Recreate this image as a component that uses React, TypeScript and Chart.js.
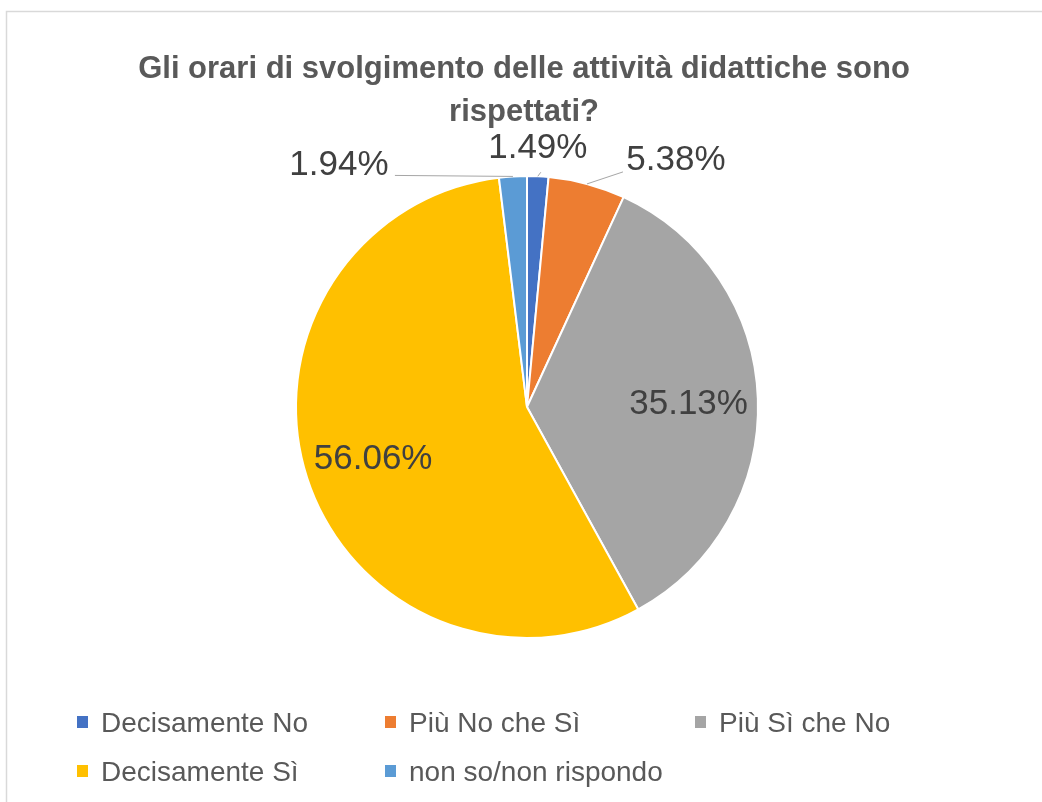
import React, { useEffect, useRef } from "react";
import { Chart, registerables } from "chart.js";

Chart.register(...registerables);

const titleLines = ["Gli orari di svolgimento delle attività didattiche sono", "rispettati?"];
const categories = ["Decisamente No", "Più No che Sì", "Più Sì che No", "Decisamente Sì", "non so/non rispondo"];
const values = [1.49, 5.38, 35.13, 56.06, 1.94];
const colors = ["#4472C4", "#ED7D31", "#A5A5A5", "#FFC000", "#5B9BD5"];
const valueLabels = values.map((v) => v.toFixed(2) + "%");

// label placement styles (inside: fraction of radius; outside: offset from slice edge midpoint)
const placements: any[] = [
  { mode: "out", dx: 0, dy: -18, lx: 3, ly: 14 },
  { mode: "out", dx: 89, dy: -14, lx: -53, ly: 2 },
  { mode: "in", r: 0.7 },
  { mode: "in", r: 0.7 },
  { mode: "out", dx: -174, dy: -1, lx: 56, ly: 0 },
];

const FONT = "'Liberation Sans', Arial, sans-serif";

const drawPlugin = {
  id: "customDraw",
  beforeDraw(chart: any) {
    const ctx = chart.ctx;
    ctx.save();
    ctx.fillStyle = "#ffffff";
    ctx.fillRect(0, 0, chart.width, chart.height);
    ctx.strokeStyle = "#d9d9d9";
    ctx.lineWidth = 1.5;
    ctx.beginPath();
    ctx.moveTo(6.5, chart.height);
    ctx.lineTo(6.5, 11.5);
    ctx.lineTo(chart.width, 11.5);
    ctx.stroke();

    // title
    ctx.fillStyle = "#595959";
    ctx.font = `bold 31px ${FONT}`;
    ctx.textAlign = "center";
    ctx.textBaseline = "alphabetic";
    const tb = [78, 121];
    titleLines.forEach((t, i) => ctx.fillText(t, 524, tb[i]));

    // legend
    const colX = [77, 385, 695];
    const rowY = [722, 771];
    ctx.font = `28px ${FONT}`;
    ctx.textAlign = "left";
    categories.forEach((c, i) => {
      const x = colX[i % 3];
      const y = rowY[Math.floor(i / 3)];
      ctx.fillStyle = colors[i];
      ctx.fillRect(x, y - 6, 11, 12);
      ctx.fillStyle = "#595959";
      ctx.fillText(c, x + 24, y + 10);
    });
    ctx.restore();
  },
  afterDatasetsDraw(chart: any) {
    const ctx = chart.ctx;
    const meta = chart.getDatasetMeta(0);
    ctx.save();
    ctx.font = `35px ${FONT}`;
    ctx.textAlign = "center";
    ctx.textBaseline = "alphabetic";
    const cap = 25;
    meta.data.forEach((arc: any, i: number) => {
      const { x, y, startAngle, endAngle, outerRadius } = arc.getProps(
        ["x", "y", "startAngle", "endAngle", "outerRadius"],
        true
      );
      const mid = (startAngle + endAngle) / 2;
      const p = placements[i];
      const text = valueLabels[i];
      if (p.mode === "in") {
        const cx = x + Math.cos(mid) * outerRadius * p.r;
        const cy = y + Math.sin(mid) * outerRadius * p.r;
        ctx.fillStyle = "#404040";
        ctx.fillText(text, cx, cy + cap / 2);
      } else {
        const ex = x + Math.cos(mid) * outerRadius;
        const ey = y + Math.sin(mid) * outerRadius;
        const lx = ex + p.dx;
        const ly = ey + p.dy;
        ctx.strokeStyle = "#a6a6a6";
        ctx.lineWidth = 1;
        ctx.beginPath();
        ctx.moveTo(ex, ey);
        ctx.lineTo(lx + p.lx, ly + p.ly);
        ctx.stroke();
        ctx.fillStyle = "#404040";
        ctx.fillText(text, lx, ly);
      }
    });
    ctx.restore();
  },
};

export default function App() {
  const ref = useRef<HTMLCanvasElement | null>(null);
  useEffect(() => {
    if (!ref.current) return;
    const chart = new Chart(ref.current, {
      type: "pie",
      data: {
        labels: categories,
        datasets: [
          {
            data: values,
            backgroundColor: colors,
            borderColor: "#ffffff",
            borderWidth: 2,
          },
        ],
      },
      options: {
        responsive: false,
        animation: false,
        devicePixelRatio: 1,
        layout: { padding: { left: 250, right: 238, top: 175, bottom: 163 } },
        plugins: {
          legend: { display: false },
          title: { display: false },
          tooltip: { enabled: false },
        },
      },
      plugins: [drawPlugin],
    } as any);
    return () => chart.destroy();
  }, []);
  return (
    <div style={{ position: "fixed", left: 0, top: 0, width: 1042, height: 802, background: "#fff" }}>
      <canvas ref={ref} width={1042} height={802} style={{ width: 1042, height: 802, display: "block" }} />
    </div>
  );
}
